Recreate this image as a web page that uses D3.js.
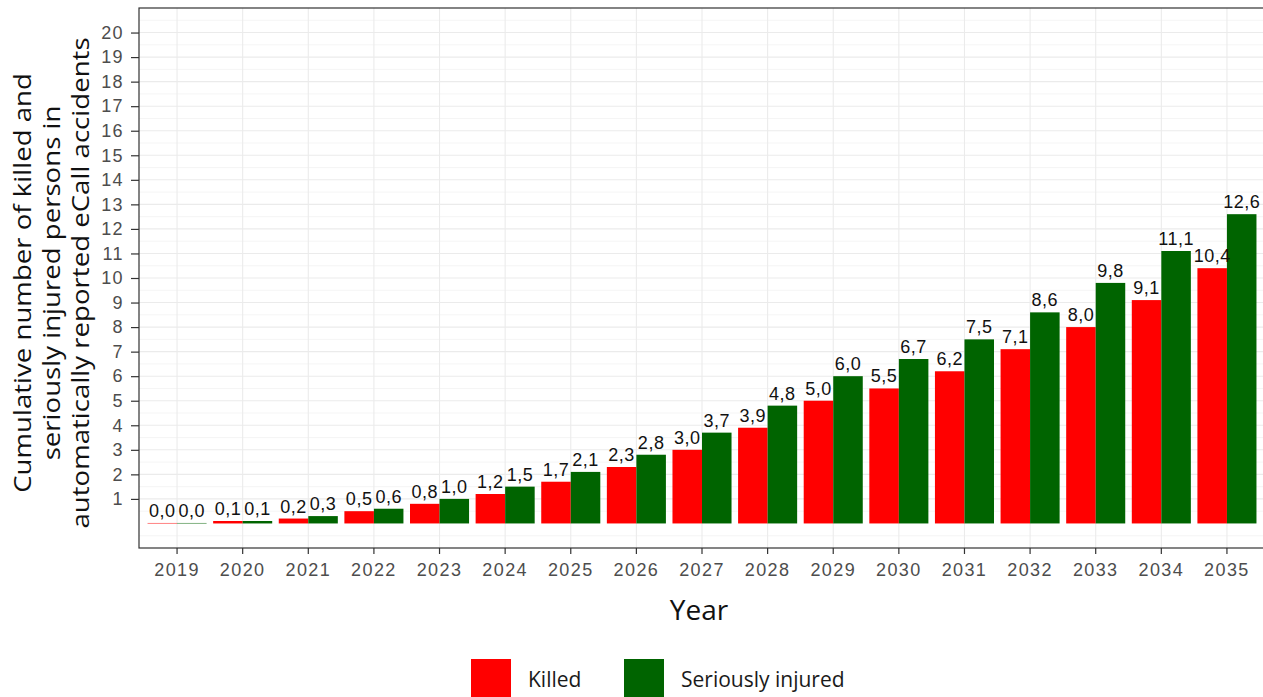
<!DOCTYPE html>
<html>
<head>
<meta charset="utf-8">
<script src="https://cdn.jsdelivr.net/npm/d3@7"></script>
<style>
  body { margin: 0; background: #fff; }
  svg { display: block; }
  .arial { font-family: "Liberation Sans", Arimo, Arial, Helvetica; }
  .opensans { font-family: "Open Sans"; }
</style>
</head>
<body>
<div id="chart"></div>
<script>

// data
var years = ["2019", "2020", "2021", "2022", "2023", "2024", "2025", "2026", "2027",
             "2028", "2029", "2030", "2031", "2032", "2033", "2034", "2035"];
var killed = [0.0, 0.1, 0.2, 0.5, 0.8, 1.2, 1.7, 2.3, 3.0, 3.9, 5.0, 5.5, 6.2, 7.1, 8.0, 9.1, 10.4];
var injured = [0.0, 0.1, 0.3, 0.6, 1.0, 1.5, 2.1, 2.8, 3.7, 4.8, 6.0, 6.7, 7.5, 8.6, 9.8, 11.1, 12.6];
var seriesNames = ["Killed", "Seriously injured"];
var seriesColors = ["#ff0000", "#006400"];
var yTicks = d3.range(1, 21);

var W = 1263, H = 697;
var panel = { left: 139, top: 8, right: 1265, bottom: 548 };

var svg = d3.select("#chart")
    .append("svg")
    .attr("width", W)
    .attr("height", H);

// scales
var x0 = d3.scaleBand().domain(years)
    .range([panel.left, panel.right])
    .paddingInner(0.1)
    .paddingOuter(0.13);
var x1 = d3.scaleBand().domain(seriesNames)
    .range([0, x0.bandwidth()])
    .padding(0);
var y = d3.scaleLinear().domain([-1, 21]).range([panel.bottom, panel.top]);

// grid: minor (half units) then major
var minor = d3.range(-0.5, 21, 1);
svg.append("g").selectAll("line")
    .data(minor)
    .join("line")
    .attr("x1", panel.left).attr("x2", panel.right)
    .attr("y1", d => y(d)).attr("y2", d => y(d))
    .attr("stroke", "#f2f2f2")
    .attr("stroke-width", 0.8);

svg.append("g").selectAll("line")
    .data(yTicks)
    .join("line")
    .attr("x1", panel.left).attr("x2", panel.right)
    .attr("y1", d => y(d)).attr("y2", d => y(d))
    .attr("stroke", "#ebebeb")
    .attr("stroke-width", 1.1);

svg.append("g").selectAll("line")
    .data(years)
    .join("line")
    .attr("x1", d => x0(d) + x0.bandwidth() / 2)
    .attr("x2", d => x0(d) + x0.bandwidth() / 2)
    .attr("y1", panel.top).attr("y2", panel.bottom)
    .attr("stroke", "#ebebeb")
    .attr("stroke-width", 1.1);

// bars
var rows = years.map(function (yr, i) {
    return { year: yr, values: [
        { key: "Killed", value: killed[i] },
        { key: "Seriously injured", value: injured[i] }
    ] };
});
var color = d3.scaleOrdinal().domain(seriesNames).range(seriesColors);

var groups = svg.append("g").selectAll("g")
    .data(rows)
    .join("g")
    .attr("transform", d => "translate(" + x0(d.year) + ",0)");

groups.selectAll("rect")
    .data(d => d.values)
    .join("rect")
    .attr("x", d => x1(d.key))
    .attr("width", x1.bandwidth())
    .attr("y", d => y(Math.max(d.value, 0.02)))
    .attr("height", d => y(0) - y(Math.max(d.value, 0.02)))
    .attr("fill", d => color(d.key));

var fmt = d => d.toFixed(1).replace(".", ",");
groups.selectAll("text")
    .data(d => d.values)
    .join("text")
    .attr("class", "arial")
    .attr("x", d => x1(d.key) + x1.bandwidth() / 2)
    .attr("y", d => y(d.value) - 6)
    .attr("text-anchor", "middle")
    .attr("font-size", 18)
    .attr("letter-spacing", 0.5)
    .attr("fill", "#111")
    .text(d => fmt(d.value));

// panel border
svg.append("rect")
    .attr("x", panel.left).attr("y", panel.top)
    .attr("width", panel.right - panel.left)
    .attr("height", panel.bottom - panel.top)
    .attr("fill", "none")
    .attr("stroke", "#333")
    .attr("stroke-width", 1.2);

// axes
var yAxis = svg.append("g")
    .attr("transform", "translate(" + panel.left + ",0)")
    .call(d3.axisLeft(y).tickValues(yTicks).tickSize(8).tickPadding(7));
var xAxis = svg.append("g")
    .attr("transform", "translate(0," + panel.bottom + ")")
    .call(d3.axisBottom(x0).tickSize(6).tickPadding(9));

[yAxis, xAxis].forEach(function (ax) {
    ax.attr("font-family", null).attr("font-size", null);
    ax.select(".domain").remove();
    ax.selectAll(".tick line").attr("stroke", "#333").attr("stroke-width", 1.2);
    ax.selectAll(".tick text")
        .attr("class", "arial")
        .attr("fill", "#4d4d4d")
        .attr("font-size", 18)
        .attr("letter-spacing", 1.4);
});

// axis titles
svg.append("text")
    .attr("class", "opensans")
    .attr("x", 699)
    .attr("y", 620)
    .attr("text-anchor", "middle")
    .attr("font-size", 28)
    .attr("fill", "#111")
    .text("Year");

var titleLines = ["Cumulative number of killed and",
                  "seriously injured persons in",
                  "automatically reported eCall accidents"];
var stretch = 1.15;
svg.append("text")
    .attr("class", "opensans")
    .attr("transform", "rotate(-90) scale(" + stretch + ",1)")
    .attr("text-anchor", "middle")
    .attr("font-size", 24)
    .attr("fill", "#111")
    .selectAll("tspan")
    .data(titleLines)
    .join("tspan")
    .attr("x", -283 / stretch)
    .attr("y", (d, i) => 31 + i * 29)
    .text(d => d);

// legend
var legendX = [471, 624];
var legend = svg.append("g").selectAll("g")
    .data(seriesNames)
    .join("g")
    .attr("transform", (d, i) => "translate(" + legendX[i] + ",659)");
legend.append("rect")
    .attr("width", 40).attr("height", 40)
    .attr("fill", d => color(d));
legend.append("text")
    .attr("class", "opensans")
    .attr("x", 57)
    .attr("y", 28)
    .attr("font-size", 21)
    .attr("fill", "#1a1a1a")
    .text(d => d);

</script>
</body>
</html>
